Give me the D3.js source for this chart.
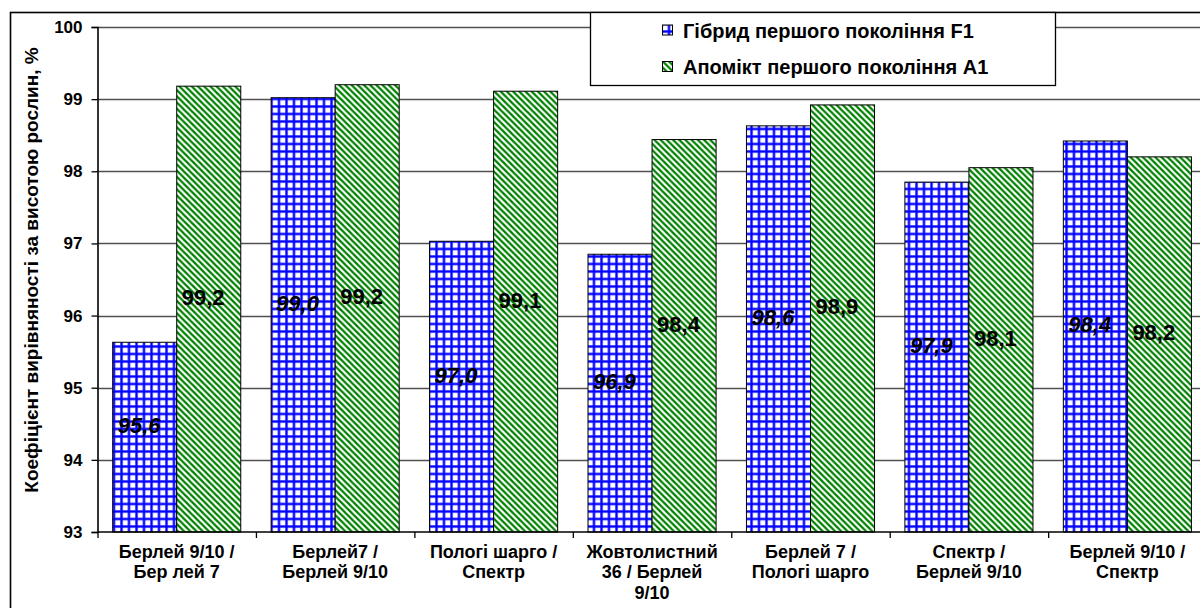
<!DOCTYPE html>
<html><head><meta charset="utf-8">
<script src="https://cdn.jsdelivr.net/npm/d3@7"></script>
<style>
html,body{margin:0;padding:0;background:#fff;}
svg{display:block;font-family:"Liberation Sans",Arial,sans-serif;}
</style></head>
<body><svg id="chart" width="1200" height="608"></svg>
<script>
const categories = [
  ["Берлей 9/10 /", "Бер лей 7"],
  ["Берлей7 /", "Берлей 9/10"],
  ["Пологі шарго /", "Спектр"],
  ["Жовтолистний", "36 / Берлей", "9/10"],
  ["Берлей 7 /", "Пологі шарго"],
  ["Спектр /", "Берлей 9/10"],
  ["Берлей 9/10 /", "Спектр"]
];
const seriesNames = ["Гібрид першого покоління F1", "Апомікт першого покоління A1"];
const hybridF1 = [95.63, 99.02, 97.03, 96.85, 98.63, 97.85, 98.42];
const apomictA1 = [99.18, 99.2, 99.11, 98.44, 98.92, 98.05, 98.2];
const hybridLabels = ["95,6", "99,0", "97,0", "96,9", "98,6", "97,9", "98,4"];
const apomictLabels = ["99,2", "99,2", "99,1", "98,4", "98,9", "98,1", "98,2"];
const yTicks = [93, 94, 95, 96, 97, 98, 99, 100];
const yTitle = "Коефіцієнт вирівняності за висотою рослин, %";

(function(){
const svg = d3.select("#chart");
const defs = svg.append("defs");

const pb = defs.append("pattern").attr("id","blueGrid").attr("patternUnits","userSpaceOnUse")
  .attr("width",7.5).attr("height",7.5);
pb.append("rect").attr("width",7.5).attr("height",7.5).attr("fill","#fff");
pb.append("rect").attr("x",0).attr("y",0).attr("width",3).attr("height",7.5).attr("fill","#9999ff");
pb.append("rect").attr("x",0).attr("y",0).attr("width",7.5).attr("height",3).attr("fill","#9999ff");
pb.append("rect").attr("x",0.5).attr("y",0).attr("width",2).attr("height",7.5).attr("fill","#0000ff");
pb.append("rect").attr("x",0).attr("y",0.5).attr("width",7.5).attr("height",2).attr("fill","#0000ff");

const s = 6.2;
const pg = defs.append("pattern").attr("id","greenDiag").attr("patternUnits","userSpaceOnUse")
  .attr("width",s).attr("height",s);
pg.append("rect").attr("width",s).attr("height",s).attr("fill","#fff");
pg.append("path")
  .attr("d",`M-1,-1L${s+1},${s+1}M${s-2},-2L${s+2},2M-2,${s-2}L2,${s+2}`)
  .attr("stroke","#008000").attr("stroke-width",2.3);

const pLeft = 97.5, pRight = 1206.6, pTop = 27, pBottom = 532;

const x0 = d3.scaleBand().domain(d3.range(categories.length)).range([pLeft, pRight]).padding(0);
const x1 = d3.scaleBand().domain([0,1]).range([0, x0.bandwidth()]).paddingInner(0).paddingOuter(0.237);
const y = d3.scaleLinear().domain([93, 100]).range([pBottom, pTop]);

svg.append("rect").attr("x",10.5).attr("y",12.5).attr("width",1300).attr("height",700)
  .attr("fill","none").attr("stroke","#000").attr("stroke-width",1.6);

svg.append("g").selectAll("line").data(yTicks.filter(d=>d>93)).join("line")
  .attr("x1",pLeft).attr("x2",pRight).attr("y1",d=>Math.round(y(d))+0.5).attr("y2",d=>Math.round(y(d))+0.5)
  .attr("stroke","#505050").attr("stroke-width",1.3);

const series = [
  {vals: hybridF1, labels: hybridLabels, fill: "url(#blueGrid)", italic: true},
  {vals: apomictA1, labels: apomictLabels, fill: "url(#greenDiag)", italic: false}
];
series.forEach((se, si) => {
  svg.append("g").selectAll("rect").data(se.vals).join("rect")
    .attr("x",(d,i)=>x0(i)+x1(si)).attr("y",d=>y(d))
    .attr("width",x1.bandwidth()).attr("height",d=>pBottom-y(d))
    .attr("fill",se.fill).attr("stroke","#000").attr("stroke-width",1);
});

const yAxis = d3.axisLeft(y).tickValues(yTicks).tickSize(6).tickFormat(d3.format("d"));
const gy = svg.append("g").attr("transform",`translate(${pLeft},0)`).call(yAxis);
gy.select(".domain").attr("stroke","#000").attr("stroke-width",1.6);
gy.selectAll(".tick line").attr("stroke","#000").attr("stroke-width",1.3);
gy.selectAll(".tick text").attr("font-size",17).attr("font-weight","bold").attr("fill","#000")
  .attr("font-family","Liberation Sans, Arial, sans-serif").attr("x",-15);

const xTickScale = d3.scaleLinear().domain([0, categories.length]).range([pLeft, pRight]);
const xAxis = d3.axisBottom(xTickScale).tickValues(d3.range(categories.length)).tickSize(6).tickFormat("");
const gx = svg.append("g").attr("transform",`translate(0,${pBottom})`).call(xAxis);
gx.select(".domain").attr("stroke","#000").attr("stroke-width",1.6).attr("d",`M${pLeft},0H${pRight}`);
gx.selectAll(".tick line").attr("stroke","#000").attr("stroke-width",1.3);

const xl = svg.append("g");
categories.forEach((lines, i) => {
  const cx = x0(i) + x0.bandwidth()/2;
  const t = xl.append("text").attr("text-anchor","middle").attr("font-size",18).attr("font-weight","bold")
    .attr("x", cx).attr("y", 557.5);
  lines.forEach((ln, k) => t.append("tspan").attr("x", cx).attr("dy", k===0?0:20.5).text(ln));
});

series.forEach((se, si) => {
  svg.append("g").selectAll("text").data(se.vals).join("text")
    .attr("x",(d,i)=>x0(i)+x1(si)+5)
    .attr("y",d=>(y(d)+pBottom)/2 - 4)
    .attr("font-size",22).attr("font-weight","bold")
    .attr("font-style", se.italic ? "italic" : "normal")
    .attr("fill","#000")
    .text((d,i)=>se.labels[i]);
});

svg.append("text").attr("transform","translate(38,270) rotate(-90)").attr("text-anchor","middle")
  .attr("font-size",19).attr("font-weight","bold").text(yTitle);

const lg = svg.append("g");
lg.append("rect").attr("x",590.5).attr("y",12.5).attr("width",465).attr("height",73)
  .attr("fill","#fff").attr("stroke","#000").attr("stroke-width",1.3);
const legFills = ["url(#blueGrid)","url(#greenDiag)"];
seriesNames.forEach((nm, i) => {
  const cy = 30.5 + i*36.5;
  lg.append("rect").attr("x",662.5).attr("y",cy-5.5).attr("width",10).attr("height",10)
    .attr("fill",legFills[i]).attr("stroke","#000").attr("stroke-width",1);
  lg.append("text").attr("x",683).attr("y",cy+7).attr("font-size",20).attr("font-weight","bold").text(nm);
});
})();
</script>
</body></html>
